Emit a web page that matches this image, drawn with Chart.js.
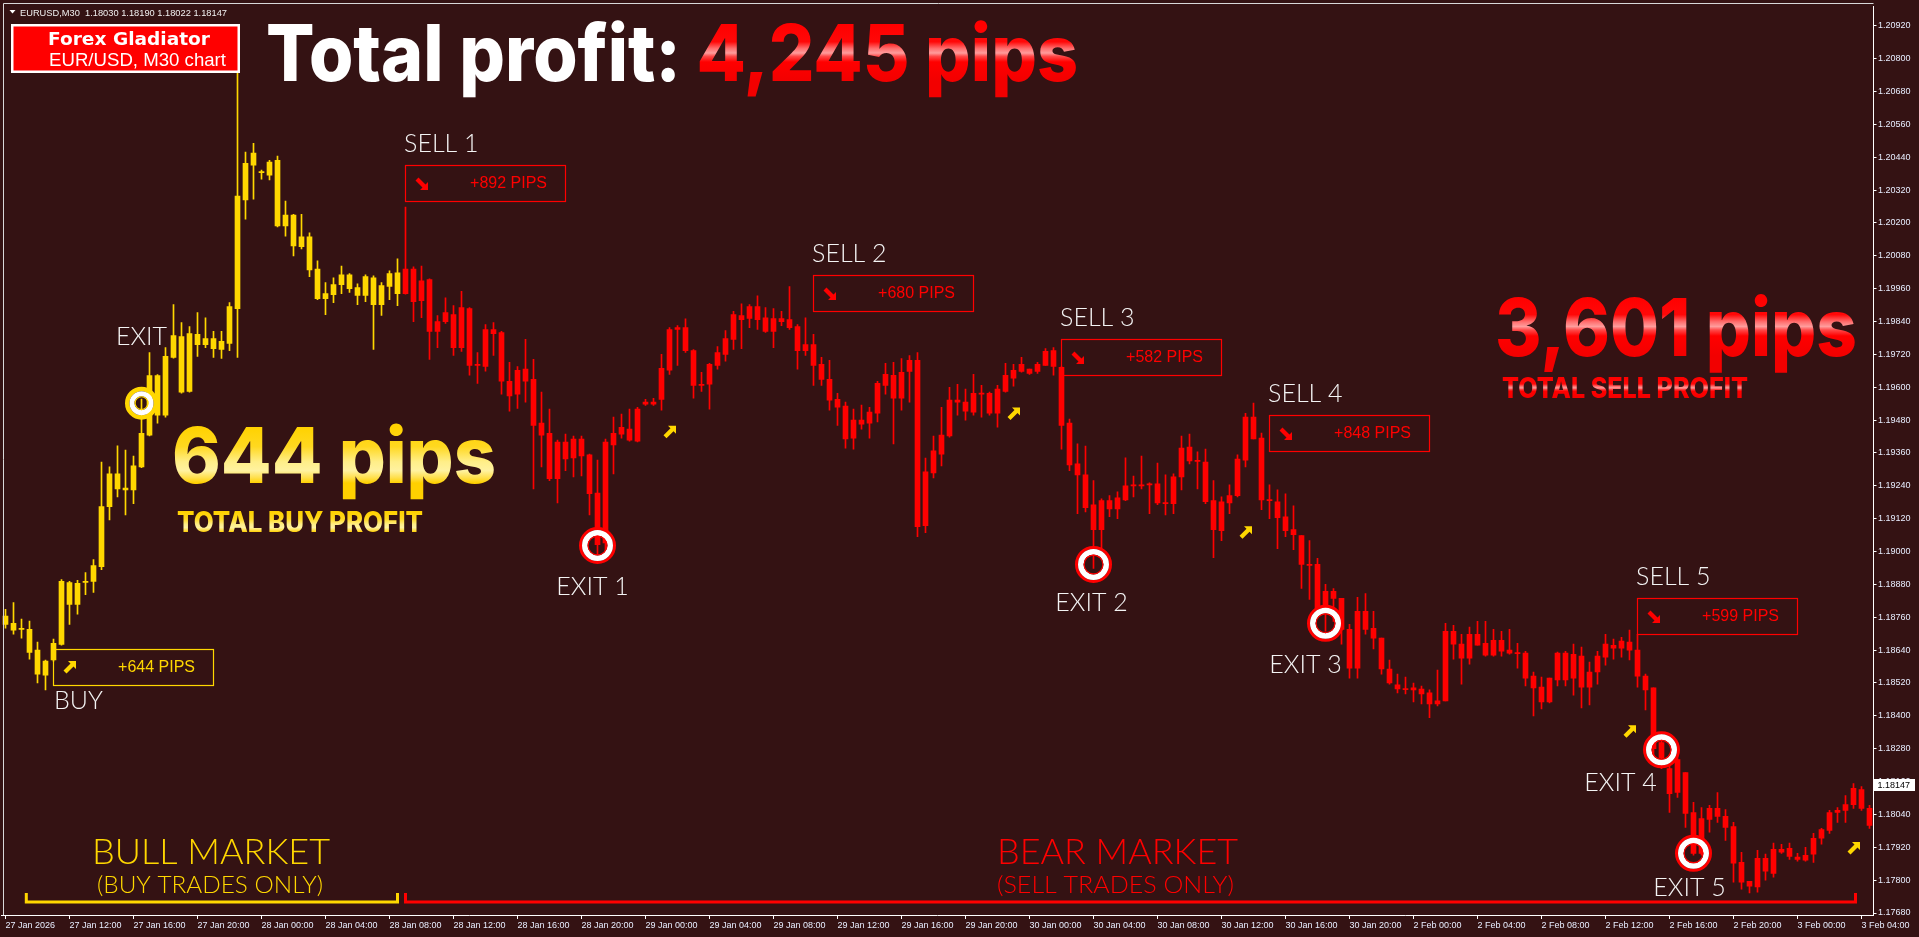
<!DOCTYPE html>
<html>
<head>
<meta charset="utf-8">
<script src="https://cdn.jsdelivr.net/npm/chart.js@4.4.1/dist/chart.umd.min.js"></script>
<style>
  html, body { margin: 0; padding: 0; background: #341213; }
  canvas { display: block; }
</style>
</head>
<body>
<canvas id="chart" width="1919" height="937"></canvas>
<script>
// EURUSD M30, one candle every 30 minutes from 27 Jan 08:00
const opens = [
  1.18764, 1.18738, 1.18720, 1.18716, 1.18640, 1.18549, 1.18604, 1.18661, 1.18887, 1.18807,
  1.18887, 1.18891, 1.18945, 1.19164, 1.19284, 1.19225, 1.19225, 1.19309, 1.19425, 1.19643,
  1.19498, 1.19709, 1.19785, 1.19585, 1.19793, 1.19756, 1.19778, 1.19738, 1.19760, 1.19887,
  1.20284, 1.20411, 1.20386, 1.20375, 1.20429, 1.20189, 1.20229, 1.20113, 1.20149, 1.20032,
  1.19942, 1.19938, 1.19975, 1.20011, 1.19964, 1.19935, 1.20000, 1.19902, 1.19968, 1.19942,
  1.20032, 1.20032, 1.19916, 1.19993, 1.19804, 1.19840, 1.19865, 1.19745, 1.19887, 1.19680,
  1.19676, 1.19811, 1.19800, 1.19622, 1.19575, 1.19666, 1.19629, 1.19469, 1.19432, 1.19266,
  1.19400, 1.19342, 1.19411, 1.19353, 1.19214, 1.19032, 1.19389, 1.19429, 1.19447, 1.19403,
  1.19538, 1.19546, 1.19556, 1.19662, 1.19811, 1.19818, 1.19734, 1.19607, 1.19611, 1.19680,
  1.19720, 1.19775, 1.19862, 1.19851, 1.19895, 1.19854, 1.19804, 1.19851, 1.19847, 1.19822,
  1.19734, 1.19756, 1.19684, 1.19629, 1.19556, 1.19531, 1.19414, 1.19480, 1.19469, 1.19505,
  1.19607, 1.19644, 1.19560, 1.19658, 1.19698, 1.19095, 1.19287, 1.19356, 1.19422, 1.19553,
  1.19546, 1.19509, 1.19578, 1.19578, 1.19505, 1.19585, 1.19633, 1.19658, 1.19666, 1.19658,
  1.19680, 1.19734, 1.19673, 1.19469, 1.19320, 1.19280, 1.19171, 1.19080, 1.19186, 1.19156,
  1.19189, 1.19240, 1.19244, 1.19243, 1.19247, 1.19178, 1.19175, 1.19273, 1.19382, 1.19333,
  1.19327, 1.19186, 1.19076, 1.19178, 1.19204, 1.19334, 1.19491, 1.19414, 1.19189, 1.19182,
  1.19127, 1.19080, 1.19058, 1.18953, 1.18953, 1.18793, 1.18855, 1.18829, 1.18716, 1.18574,
  1.18782, 1.18720, 1.18684, 1.18571, 1.18513, 1.18500, 1.18495, 1.18498, 1.18484, 1.18444,
  1.18455, 1.18709, 1.18662, 1.18611, 1.18698, 1.18665, 1.18622, 1.18676, 1.18640, 1.18631,
  1.18629, 1.18545, 1.18505, 1.18451, 1.18531, 1.18629, 1.18538, 1.18618, 1.18505, 1.18560,
  1.18614, 1.18647, 1.18647, 1.18669, 1.18640, 1.18545, 1.18502, 1.18302, 1.18207, 1.18120,
  1.18193, 1.18047, 1.17898, 1.18022, 1.18062, 1.18033, 1.17996, 1.17865, 1.17796, 1.17775,
  1.17880, 1.17825, 1.17913, 1.17916, 1.17884, 1.17873, 1.17895, 1.17953, 1.17982, 1.18047,
  1.18055, 1.18076, 1.18131, 1.18062
];
const highs = [
  1.18789, 1.18814, 1.18753, 1.18746, 1.18669, 1.18604, 1.18680, 1.18898, 1.18891, 1.18895,
  1.18923, 1.18971, 1.19327, 1.19309, 1.19386, 1.19371, 1.19349, 1.19557, 1.19727, 1.19646,
  1.19745, 1.19902, 1.19836, 1.19822, 1.19873, 1.19854, 1.19804, 1.19804, 1.19909, 1.20782,
  1.20459, 1.20491, 1.20393, 1.20429, 1.20444, 1.20280, 1.20232, 1.20232, 1.20164, 1.20062,
  1.19982, 1.20000, 1.20043, 1.20015, 1.19978, 1.20011, 1.20007, 1.19982, 1.20025, 1.20069,
  1.20258, 1.20040, 1.20043, 1.19996, 1.19862, 1.19927, 1.19898, 1.19950, 1.19891, 1.19727,
  1.19829, 1.19836, 1.19804, 1.19691, 1.19676, 1.19775, 1.19702, 1.19582, 1.19520, 1.19407,
  1.19429, 1.19422, 1.19422, 1.19356, 1.19334, 1.19411, 1.19491, 1.19502, 1.19520, 1.19527,
  1.19556, 1.19560, 1.19720, 1.19818, 1.19825, 1.19850, 1.19738, 1.19655, 1.19687, 1.19749,
  1.19807, 1.19877, 1.19905, 1.19902, 1.19934, 1.19891, 1.19887, 1.19877, 1.19968, 1.19829,
  1.19854, 1.19793, 1.19709, 1.19698, 1.19578, 1.19546, 1.19520, 1.19535, 1.19527, 1.19622,
  1.19687, 1.19691, 1.19705, 1.19716, 1.19727, 1.19341, 1.19422, 1.19527, 1.19600, 1.19611,
  1.19593, 1.19647, 1.19607, 1.19582, 1.19607, 1.19687, 1.19684, 1.19709, 1.19666, 1.19691,
  1.19741, 1.19745, 1.19676, 1.19484, 1.19393, 1.19385, 1.19259, 1.19193, 1.19204, 1.19218,
  1.19342, 1.19276, 1.19349, 1.19251, 1.19323, 1.19280, 1.19284, 1.19422, 1.19429, 1.19364,
  1.19374, 1.19259, 1.19200, 1.19244, 1.19353, 1.19505, 1.19542, 1.19433, 1.19244, 1.19225,
  1.19211, 1.19167, 1.19058, 1.19040, 1.18975, 1.18880, 1.18865, 1.18829, 1.18734, 1.18833,
  1.18847, 1.18782, 1.18684, 1.18604, 1.18553, 1.18542, 1.18520, 1.18509, 1.18495, 1.18567,
  1.18738, 1.18731, 1.18698, 1.18724, 1.18745, 1.18745, 1.18716, 1.18709, 1.18716, 1.18665,
  1.18636, 1.18560, 1.18542, 1.18538, 1.18633, 1.18636, 1.18662, 1.18651, 1.18596, 1.18636,
  1.18698, 1.18680, 1.18687, 1.18713, 1.18698, 1.18553, 1.18502, 1.18335, 1.18236, 1.18247,
  1.18193, 1.18084, 1.18065, 1.18073, 1.18120, 1.18058, 1.18011, 1.17902, 1.17796, 1.17909,
  1.17895, 1.17935, 1.17931, 1.17935, 1.17898, 1.17920, 1.17971, 1.17989, 1.18055, 1.18065,
  1.18109, 1.18153, 1.18142, 1.18073
];
const lows = [
  1.18720, 1.18698, 1.18684, 1.18607, 1.18520, 1.18495, 1.18600, 1.18658, 1.18734, 1.18771,
  1.18843, 1.18851, 1.18934, 1.19116, 1.19200, 1.19134, 1.19175, 1.19306, 1.19422, 1.19469,
  1.19491, 1.19706, 1.19578, 1.19582, 1.19713, 1.19745, 1.19709, 1.19705, 1.19734, 1.19709,
  1.20214, 1.20287, 1.20360, 1.20357, 1.20186, 1.20152, 1.20080, 1.20105, 1.20004, 1.19920,
  1.19865, 1.19909, 1.19942, 1.19946, 1.19902, 1.19913, 1.19738, 1.19862, 1.19920, 1.19898,
  1.19940, 1.19840, 1.19854, 1.19702, 1.19745, 1.19833, 1.19716, 1.19731, 1.19644, 1.19614,
  1.19659, 1.19716, 1.19575, 1.19513, 1.19523, 1.19546, 1.19229, 1.19309, 1.19259, 1.19178,
  1.19295, 1.19273, 1.19276, 1.19134, 1.18989, 1.18993, 1.19284, 1.19414, 1.19403, 1.19400,
  1.19534, 1.19534, 1.19516, 1.19647, 1.19680, 1.19727, 1.19560, 1.19585, 1.19520, 1.19666,
  1.19695, 1.19738, 1.19741, 1.19818, 1.19811, 1.19800, 1.19745, 1.19825, 1.19811, 1.19666,
  1.19716, 1.19607, 1.19607, 1.19516, 1.19461, 1.19378, 1.19374, 1.19447, 1.19414, 1.19473,
  1.19575, 1.19393, 1.19516, 1.19546, 1.19054, 1.19069, 1.19269, 1.19313, 1.19418, 1.19498,
  1.19480, 1.19498, 1.19491, 1.19498, 1.19454, 1.19582, 1.19604, 1.19655, 1.19647, 1.19651,
  1.19680, 1.19644, 1.19374, 1.19295, 1.19138, 1.19145, 1.18938, 1.19011, 1.19127, 1.19120,
  1.19186, 1.19200, 1.19229, 1.19138, 1.19171, 1.19134, 1.19138, 1.19225, 1.19320, 1.19229,
  1.19175, 1.18978, 1.19040, 1.19138, 1.19200, 1.19309, 1.19411, 1.19153, 1.19120, 1.19011,
  1.19054, 1.19007, 1.18865, 1.18825, 1.18782, 1.18709, 1.18745, 1.18662, 1.18538, 1.18538,
  1.18698, 1.18644, 1.18552, 1.18516, 1.18484, 1.18480, 1.18451, 1.18444, 1.18393, 1.18436,
  1.18455, 1.18607, 1.18516, 1.18589, 1.18658, 1.18618, 1.18618, 1.18618, 1.18625, 1.18574,
  1.18509, 1.18400, 1.18425, 1.18447, 1.18509, 1.18509, 1.18476, 1.18429, 1.18440, 1.18516,
  1.18585, 1.18607, 1.18614, 1.18604, 1.18505, 1.18422, 1.18247, 1.18207, 1.18047, 1.18102,
  1.17993, 1.17891, 1.17891, 1.17975, 1.18011, 1.17945, 1.17793, 1.17767, 1.17753, 1.17756,
  1.17800, 1.17811, 1.17898, 1.17876, 1.17869, 1.17869, 1.17865, 1.17931, 1.17971, 1.18011,
  1.18011, 1.18062, 1.18055, 1.17989
];
const closes = [
  1.18734, 1.18713, 1.18716, 1.18632, 1.18552, 1.18600, 1.18665, 1.18891, 1.18807, 1.18884,
  1.18891, 1.18949, 1.19164, 1.19284, 1.19229, 1.19232, 1.19313, 1.19432, 1.19643, 1.19498,
  1.19713, 1.19789, 1.19582, 1.19796, 1.19756, 1.19778, 1.19741, 1.19768, 1.19895, 1.20298,
  1.20418, 1.20455, 1.20384, 1.20422, 1.20189, 1.20229, 1.20116, 1.20149, 1.20029, 1.19924,
  1.19924, 1.19975, 1.20011, 1.19960, 1.19935, 1.20004, 1.19902, 1.19971, 1.20015, 1.20018,
  1.19942, 1.19913, 1.19989, 1.19804, 1.19840, 1.19873, 1.19745, 1.19891, 1.19680, 1.19684,
  1.19811, 1.19796, 1.19622, 1.19568, 1.19662, 1.19622, 1.19461, 1.19425, 1.19266, 1.19400,
  1.19338, 1.19411, 1.19349, 1.19211, 1.19025, 1.19400, 1.19432, 1.19454, 1.19407, 1.19520,
  1.19546, 1.19538, 1.19669, 1.19811, 1.19818, 1.19734, 1.19607, 1.19611, 1.19684, 1.19727,
  1.19778, 1.19865, 1.19847, 1.19895, 1.19847, 1.19804, 1.19851, 1.19840, 1.19818, 1.19734,
  1.19756, 1.19680, 1.19629, 1.19553, 1.19527, 1.19411, 1.19480, 1.19465, 1.19509, 1.19614,
  1.19647, 1.19560, 1.19655, 1.19698, 1.19091, 1.19291, 1.19368, 1.19425, 1.19553, 1.19546,
  1.19513, 1.19578, 1.19575, 1.19505, 1.19593, 1.19644, 1.19662, 1.19684, 1.19651, 1.19684,
  1.19731, 1.19676, 1.19461, 1.19316, 1.19280, 1.19160, 1.19080, 1.19186, 1.19156, 1.19196,
  1.19240, 1.19244, 1.19240, 1.19247, 1.19178, 1.19175, 1.19273, 1.19378, 1.19331, 1.19329,
  1.19182, 1.19080, 1.19182, 1.19204, 1.19338, 1.19491, 1.19411, 1.19189, 1.19186, 1.19124,
  1.19076, 1.19062, 1.18953, 1.18949, 1.18793, 1.18855, 1.18829, 1.18716, 1.18574, 1.18782,
  1.18716, 1.18684, 1.18571, 1.18520, 1.18498, 1.18496, 1.18502, 1.18480, 1.18444, 1.18455,
  1.18709, 1.18662, 1.18611, 1.18698, 1.18658, 1.18622, 1.18676, 1.18636, 1.18629, 1.18627,
  1.18538, 1.18502, 1.18451, 1.18538, 1.18629, 1.18531, 1.18625, 1.18505, 1.18560, 1.18618,
  1.18662, 1.18658, 1.18673, 1.18640, 1.18545, 1.18495, 1.18280, 1.18247, 1.18116, 1.18240,
  1.18044, 1.17898, 1.18025, 1.18062, 1.18033, 1.17993, 1.17862, 1.17793, 1.17778, 1.17880,
  1.17833, 1.17913, 1.17902, 1.17887, 1.17876, 1.17891, 1.17953, 1.17985, 1.18047, 1.18055,
  1.18076, 1.18135, 1.18062, 1.18000
];

// one label every 8 bars (4 hours)
const xTickLabels = [
  '27 Jan 2026', '27 Jan 12:00', '27 Jan 16:00', '27 Jan 20:00', '28 Jan 00:00', '28 Jan 04:00',
  '28 Jan 08:00', '28 Jan 12:00', '28 Jan 16:00', '28 Jan 20:00', '29 Jan 00:00', '29 Jan 04:00',
  '29 Jan 08:00', '29 Jan 12:00', '29 Jan 16:00', '29 Jan 20:00', '30 Jan 00:00', '30 Jan 04:00',
  '30 Jan 08:00', '30 Jan 12:00', '30 Jan 16:00', '30 Jan 20:00', '2 Feb 00:00', '2 Feb 04:00',
  '2 Feb 08:00', '2 Feb 12:00', '2 Feb 16:00', '2 Feb 20:00', '3 Feb 00:00', '3 Feb 04:00'
];
const yTickValues = [
  1.17680, 1.17800, 1.17920, 1.18040, 1.18160, 1.18280, 1.18400, 1.18520, 1.18640, 1.18760,
  1.18880, 1.19000, 1.19120, 1.19240, 1.19360, 1.19480, 1.19600, 1.19720, 1.19840, 1.19960,
  1.20080, 1.20200, 1.20320, 1.20440, 1.20560, 1.20680, 1.20800, 1.20920
];
const lastPrice = 1.18147;
const sellStartIndex = 50;

// trades
const tradeNames = ['BUY', 'SELL 1', 'SELL 2', 'SELL 3', 'SELL 4', 'SELL 5'];
const tradeBars = [6, 50, 101, 132, 158, 204];
const tradeBoxTops = [1.18644, 1.20411, 1.20011, 1.19778, 1.19498, 1.18829];
const tradePips = ['+644 PIPS', '+892 PIPS', '+680 PIPS', '+582 PIPS', '+848 PIPS', '+599 PIPS'];

const exitNames = ['EXIT', 'EXIT 1', 'EXIT 2', 'EXIT 3', 'EXIT 4', 'EXIT 5'];
const exitBars = [17, 74, 136, 165, 207, 211];
const exitPrices = [1.19542, 1.19022, 1.18953, 1.18738, 1.18276, 1.17898];

const signalBars = [83, 126, 155, 203, 231];
const signalPrices = [1.19436, 1.19502, 1.19069, 1.18342, 1.17916];

const bullRange = [2.6, 49];
const bearRange = [50, 231.25];
const bracketPrice = 1.17720;

// ---- drawing ----
const YELLOW = '#ffd700';
const RED = '#ff0000';
const bars = opens.map((_, i) => i);
const candleColors = bars.map(i => i < sellStartIndex ? YELLOW : RED);

// label offsets from each exit circle
const exitLabelDx = [0, -5, -2, -20, -41, -4];
const exitLabelDy = [-58, 49, 47, 50, 41, 43];

const redShine = [[0, '#ff0000'], [0.3, '#ff0808'], [0.42, '#ff6e6e'], [0.5, '#ff9c9c'], [0.56, '#ff4848'], [0.66, '#ff0000'], [1, '#f20000']];
const goldShine = [[0, '#ffd200'], [0.35, '#ffd820'], [0.62, '#ffee88'], [0.78, '#fff2a0'], [0.9, '#ffe050'], [1, '#ffd000']];

function vGrad(ctx, top, bottom, stops) {
  const g = ctx.createLinearGradient(0, top, 0, bottom);
  stops.forEach(s => g.addColorStop(s[0], s[1]));
  return g;
}

// draw text squeezed/stretched to a target width, baseline at y
function fitText(ctx, text, x, y, width, font, fill, cap) {
  ctx.save();
  ctx.font = font;
  const w = ctx.measureText(text).width;
  ctx.translate(x, y);
  ctx.scale(width / w, 1);
  ctx.fillStyle = Array.isArray(fill) ? vGrad(ctx, -cap, 0, fill) : fill;
  ctx.textBaseline = 'alphabetic';
  ctx.fillText(text, 0, 0);
  ctx.restore();
}

function drawArrow(ctx, cx, cy, color, down) {
  ctx.save();
  ctx.translate(cx, cy);
  if (down) ctx.scale(1, -1);
  ctx.fillStyle = color;
  ctx.beginPath();
  ctx.moveTo(6.5, -6.5);
  ctx.lineTo(-1.5, -6.5);
  ctx.lineTo(1, -4);
  ctx.lineTo(-6, 3);
  ctx.lineTo(-3, 6);
  ctx.lineTo(4, -1);
  ctx.lineTo(6.5, 1.5);
  ctx.closePath();
  ctx.fill();
  ctx.restore();
}

function drawRing(ctx, cx, cy, color, outerR, ringW, whiteW) {
  ctx.save();
  ctx.lineWidth = ringW;
  ctx.strokeStyle = color;
  ctx.beginPath(); ctx.arc(cx, cy, outerR - ringW / 2, 0, Math.PI * 2); ctx.stroke();
  ctx.lineWidth = whiteW;
  ctx.strokeStyle = '#ffffff';
  ctx.beginPath(); ctx.arc(cx, cy, outerR - ringW - whiteW / 2, 0, Math.PI * 2); ctx.stroke();
  ctx.lineWidth = 1.2;
  ctx.strokeStyle = color;
  ctx.beginPath(); ctx.arc(cx, cy, outerR - ringW - whiteW - 0.6, 0, Math.PI * 2); ctx.stroke();
  ctx.restore();
}

const labelFont = '300 25px Lato, "Open Sans", sans-serif';
const heavy = px => `800 ${px}px Inter, "Open Sans", sans-serif`;
const light = px => `300 ${px}px Lato, "Open Sans", sans-serif`;

const overlay = {
  id: 'overlay',
  afterDraw(chart) {
    const { ctx, chartArea: area } = chart;
    const xs = chart.scales.x, ys = chart.scales.y;
    ctx.save();

    // frame top and left
    ctx.strokeStyle = '#d8d8d8';
    ctx.lineWidth = 1;
    ctx.beginPath();
    ctx.moveTo(3.5, area.bottom);
    ctx.lineTo(3.5, 3.5);
    ctx.lineTo(area.right, 3.5);
    ctx.stroke();

    // symbol header
    ctx.fillStyle = '#ffffff';
    ctx.beginPath(); ctx.moveTo(9.5, 10); ctx.lineTo(15.5, 10); ctx.lineTo(12.5, 13.5); ctx.closePath(); ctx.fill();
    ctx.font = '9.5px "Liberation Sans", Arial, sans-serif';
    ctx.textBaseline = 'middle';
    fitText(ctx, 'EURUSD,M30  1.18030 1.18190 1.18022 1.18147', 20, 16, 207, '9.5px "Liberation Sans", Arial, sans-serif', '#f0f0f0', 7);

    // title badge
    ctx.fillStyle = '#ff0000';
    ctx.fillRect(11, 24, 229, 49);
    ctx.strokeStyle = '#ffffff';
    ctx.lineWidth = 2.5;
    ctx.strokeRect(12.25, 25.25, 226.5, 46.5);
    fitText(ctx, 'Forex Gladiator', 48, 45, 162, 'bold 17px "DejaVu Sans", sans-serif', '#ffffff', 13);
    fitText(ctx, 'EUR/USD, M30 chart', 49, 66, 177, '17.5px "Liberation Sans", Arial, sans-serif', '#ffffff', 13);

    // headline
    ctx.font = heavy(78);
    const whole = 'Total profit: 4,245 pips';
    const sx = 812 / ctx.measureText(whole).width;
    const firstW = ctx.measureText('Total profit: ').width;
    ctx.save();
    ctx.translate(266, 81);
    ctx.scale(sx, 1);
    ctx.textBaseline = 'alphabetic';
    ctx.fillStyle = '#ffffff';
    ctx.fillText('Total profit: ', 0, 0);
    ctx.fillStyle = vGrad(ctx, -56, 0, redShine);
    ctx.fillText('4,245 pips', firstW, 0);
    ctx.restore();

    fitText(ctx, '644 pips', 172, 483, 324, heavy(77), goldShine, 56);
    fitText(ctx, 'TOTAL BUY PROFIT', 177, 532, 246, heavy(28), goldShine, 20);
    fitText(ctx, '3,601 pips', 1495, 356, 362, heavy(80), redShine, 59);
    fitText(ctx, 'TOTAL SELL PROFIT', 1502, 398, 246, heavy(28), redShine, 20);

    fitText(ctx, 'BULL MARKET', 92, 864, 238, light(35), YELLOW, 25);
    fitText(ctx, '(BUY TRADES ONLY)', 97, 893, 226, light(24), YELLOW, 17);
    fitText(ctx, 'BEAR MARKET', 997, 864, 241, light(35), RED, 25);
    fitText(ctx, '(SELL TRADES ONLY)', 997, 893, 237, light(24), RED, 17);

    // market brackets
    const by = Math.round(ys.getPixelForValue(bracketPrice));
    [[bullRange, YELLOW], [bearRange, RED]].forEach(([r, c]) => {
      const x0 = xs.getPixelForValue(r[0]), x1 = xs.getPixelForValue(r[1]);
      ctx.strokeStyle = c;
      ctx.lineWidth = 3;
      ctx.beginPath();
      ctx.moveTo(x0, by - 9); ctx.lineTo(x0, by); ctx.lineTo(x1, by); ctx.lineTo(x1, by - 9);
      ctx.stroke();
    });

    // trade boxes
    tradeNames.forEach((name, k) => {
      const isBuy = k === 0;
      const col = isBuy ? YELLOW : RED;
      const left = xs.getPixelForValue(tradeBars[k]) - 0.5;
      const top = Math.round(ys.getPixelForValue(tradeBoxTops[k]));
      ctx.strokeStyle = col;
      ctx.lineWidth = 1.2;
      ctx.strokeRect(left + 0.5, top + 0.5, 160, 36);
      drawArrow(ctx, left + 16.5, top + 18.5, col, !isBuy);
      ctx.fillStyle = col;
      ctx.font = '16px "Liberation Sans", Arial, sans-serif';
      ctx.textAlign = 'right';
      ctx.textBaseline = 'middle';
      ctx.fillText(tradePips[k], left + 142, top + 19);
      ctx.textAlign = 'left';
      ctx.textBaseline = 'alphabetic';
      ctx.fillStyle = '#f4f4f4';
      ctx.font = labelFont;
      if (isBuy) ctx.fillText(name, left + 1, top + 60);
      else ctx.fillText(name, left - 1, top - 13);
    });

    // exit markers
    exitNames.forEach((name, k) => {
      const cx = xs.getPixelForValue(exitBars[k]);
      const cy = ys.getPixelForValue(exitPrices[k]);
      if (k === 0) drawRing(ctx, cx, cy, YELLOW, 16.5, 4.5, 5);
      else drawRing(ctx, cx, cy, RED, 18.5, 3, 5.5);
      ctx.fillStyle = '#f4f4f4';
      ctx.font = labelFont;
      ctx.textAlign = 'center';
      ctx.textBaseline = 'alphabetic';
      ctx.fillText(name, cx + exitLabelDx[k], cy + exitLabelDy[k]);
      ctx.textAlign = 'left';
    });

    // small buy-side signal arrows
    signalBars.forEach((b, k) => {
      drawArrow(ctx, xs.getPixelForValue(b), ys.getPixelForValue(signalPrices[k]), YELLOW, false);
    });

    // last price tag
    const py = ys.getPixelForValue(lastPrice);
    ctx.fillStyle = '#ffffff';
    ctx.fillRect(area.right + 0.5, Math.round(py) - 6, 41, 12);
    ctx.fillStyle = '#000000';
    ctx.font = '9px "Liberation Sans", Arial, sans-serif';
    ctx.textBaseline = 'middle';
    ctx.fillText(lastPrice.toFixed(5), area.right + 4, py + 0.5);

    ctx.restore();
  }
};

new Chart(document.getElementById('chart'), {
  type: 'bar',
  data: {
    labels: bars,
    datasets: [
      {
        label: 'range',
        data: bars.map(i => [lows[i], highs[i]]),
        backgroundColor: candleColors,
        barThickness: 1,
        minBarLength: 1,
        grouped: false,
        borderWidth: 0
      },
      {
        label: 'body',
        data: bars.map(i => [Math.min(opens[i], closes[i]), Math.max(opens[i], closes[i])]),
        backgroundColor: candleColors,
        barThickness: 5,
        minBarLength: 1,
        grouped: false,
        borderWidth: 0
      }
    ]
  },
  options: {
    responsive: false,
    animation: false,
    devicePixelRatio: 1,
    layout: { padding: { left: 1.5, top: 3, right: 0, bottom: 0 }, autoPadding: false },
    plugins: { legend: { display: false }, tooltip: { enabled: false } },
    scales: {
      x: {
        type: 'category',
        offset: true,
        border: { display: true, color: '#ffffff' },
        grid: { display: true, drawOnChartArea: false, offset: false, color: '#ffffff', tickLength: 4 },
        ticks: {
          autoSkip: false,
          maxRotation: 0,
          align: 'start',
          padding: 1,
          color: '#e8eeff',
          font: { family: '"Liberation Sans", Arial, sans-serif', size: 9 },
          callback: v => xTickLabels[v / 8]
        },
        afterBuildTicks: s => { s.ticks = s.ticks.filter(t => t.value % 8 === 0); },
        afterFit: s => { s.height = 22; }
      },
      y: {
        position: 'right',
        min: 1.1767273,
        max: 1.2098909,
        border: { display: true, color: '#ffffff' },
        grid: { display: true, drawOnChartArea: false, color: '#ffffff', tickLength: 3 },
        ticks: {
          padding: 1.5,
          color: '#e8eeff',
          font: { family: '"Liberation Sans", Arial, sans-serif', size: 9 },
          callback: v => v.toFixed(5)
        },
        afterBuildTicks: s => { s.ticks = yTickValues.map(v => ({ value: v })); },
        afterFit: s => { s.width = 45.5; }
      }
    }
  },
  plugins: [overlay]
});
</script>
</body>
</html>
